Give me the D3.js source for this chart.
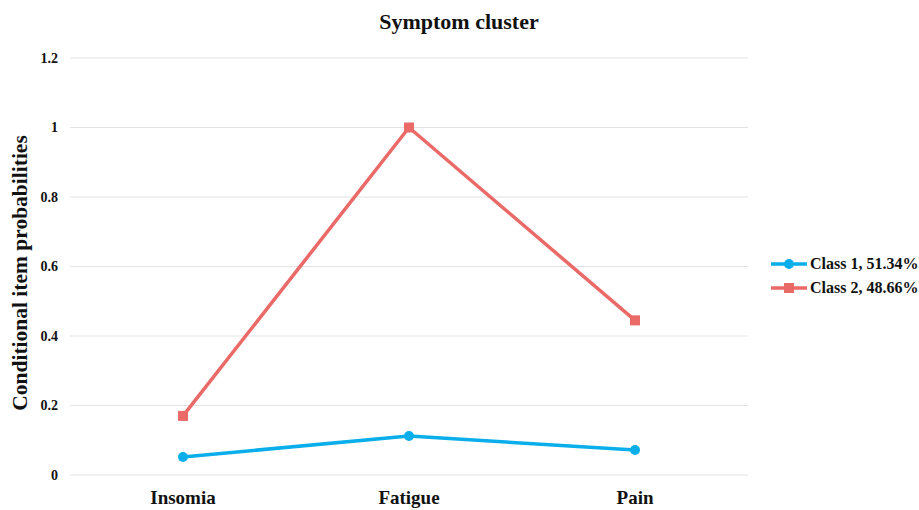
<!DOCTYPE html>
<html><head><meta charset="utf-8">
<script src="https://cdn.jsdelivr.net/npm/d3@7"></script>
<style>body{margin:0;background:#fff}svg{display:block}text{font-family:"Liberation Serif","Times New Roman",serif;font-weight:bold;fill:#111}</style>
</head><body><svg id="c" width="919" height="510"></svg>
<script>
const categories = ["Insomia", "Fatigue", "Pain"];
const class1 = [0.052, 0.112, 0.072];
const class2 = [0.17, 1.0, 0.445];
const seriesNames = ["Class 1, 51.34%", "Class 2, 48.66%"];
const yTicks = [0, 0.2, 0.4, 0.6, 0.8, 1, 1.2];
const colors = ["#0aaeea", "#ea6a68"];

const svg = d3.select("#c");
const x = d3.scaleBand().domain(categories).range([70, 748]).padding(0);
const y = d3.scaleLinear().domain([0, 1.2]).range([475, 58]);

// grid
svg.append("g").selectAll("line").data(yTicks).join("line")
  .attr("x1", 70).attr("x2", 748)
  .attr("y1", d => y(d)).attr("y2", d => y(d))
  .attr("stroke", "#e3e3e3").attr("stroke-width", 1);

// y tick labels
const yAxis = d3.axisLeft(y).tickValues(yTicks).tickSize(0).tickPadding(0).tickFormat(d => String(d));
const gy = svg.append("g").attr("transform", "translate(58,0)").call(yAxis);
gy.select(".domain").remove();
gy.selectAll("text").attr("font-size", 14).attr("font-family", "Liberation Serif").attr("font-weight", "bold").attr("fill", "#111");

// x labels
const xAxis = d3.axisBottom(x).tickSize(0).tickPadding(0);
const gx = svg.append("g").attr("transform", "translate(0,490)").call(xAxis);
gx.select(".domain").remove();
gx.selectAll("text").attr("font-size", 19).attr("font-family", "Liberation Serif").attr("font-weight", "bold").attr("fill", "#111");

// title
svg.append("text").attr("x", 459).attr("y", 29).attr("text-anchor", "middle").attr("font-size", 22).text("Symptom cluster");
// y title
svg.append("text").attr("transform", "translate(27,273) rotate(-90)").attr("text-anchor", "middle").attr("font-size", 21.5).text("Conditional item probabilities");

const series = [class1, class2];
const line = d3.line().x((d, i) => x(categories[i]) + x.bandwidth() / 2).y(d => y(d));
series.forEach((s, k) => {
  svg.append("path").datum(s).attr("d", line).attr("fill", "none").attr("stroke", colors[k]).attr("stroke-width", 3.5).attr("stroke-linejoin", "round");
  const g = svg.append("g");
  if (k === 0) {
    g.selectAll("circle").data(s).join("circle")
      .attr("cx", (d, i) => x(categories[i]) + x.bandwidth() / 2).attr("cy", d => y(d)).attr("r", 5).attr("fill", colors[k]);
  } else {
    g.selectAll("rect").data(s).join("rect")
      .attr("x", (d, i) => x(categories[i]) + x.bandwidth() / 2 - 5).attr("y", d => y(d) - 5).attr("width", 10).attr("height", 10).attr("fill", colors[k]);
  }
});

// legend
seriesNames.forEach((n, k) => {
  const ly = 264 + k * 24;
  const g = svg.append("g");
  g.append("line").attr("x1", 771).attr("x2", 807).attr("y1", ly).attr("y2", ly).attr("stroke", colors[k]).attr("stroke-width", 3.5);
  if (k === 0) g.append("circle").attr("cx", 789).attr("cy", ly).attr("r", 5).attr("fill", colors[k]);
  else g.append("rect").attr("x", 784).attr("y", ly - 5).attr("width", 10).attr("height", 10).attr("fill", colors[k]);
  g.append("text").attr("x", 810).attr("y", ly + 5).attr("font-size", 16).text(n);
});
</script></body></html>
